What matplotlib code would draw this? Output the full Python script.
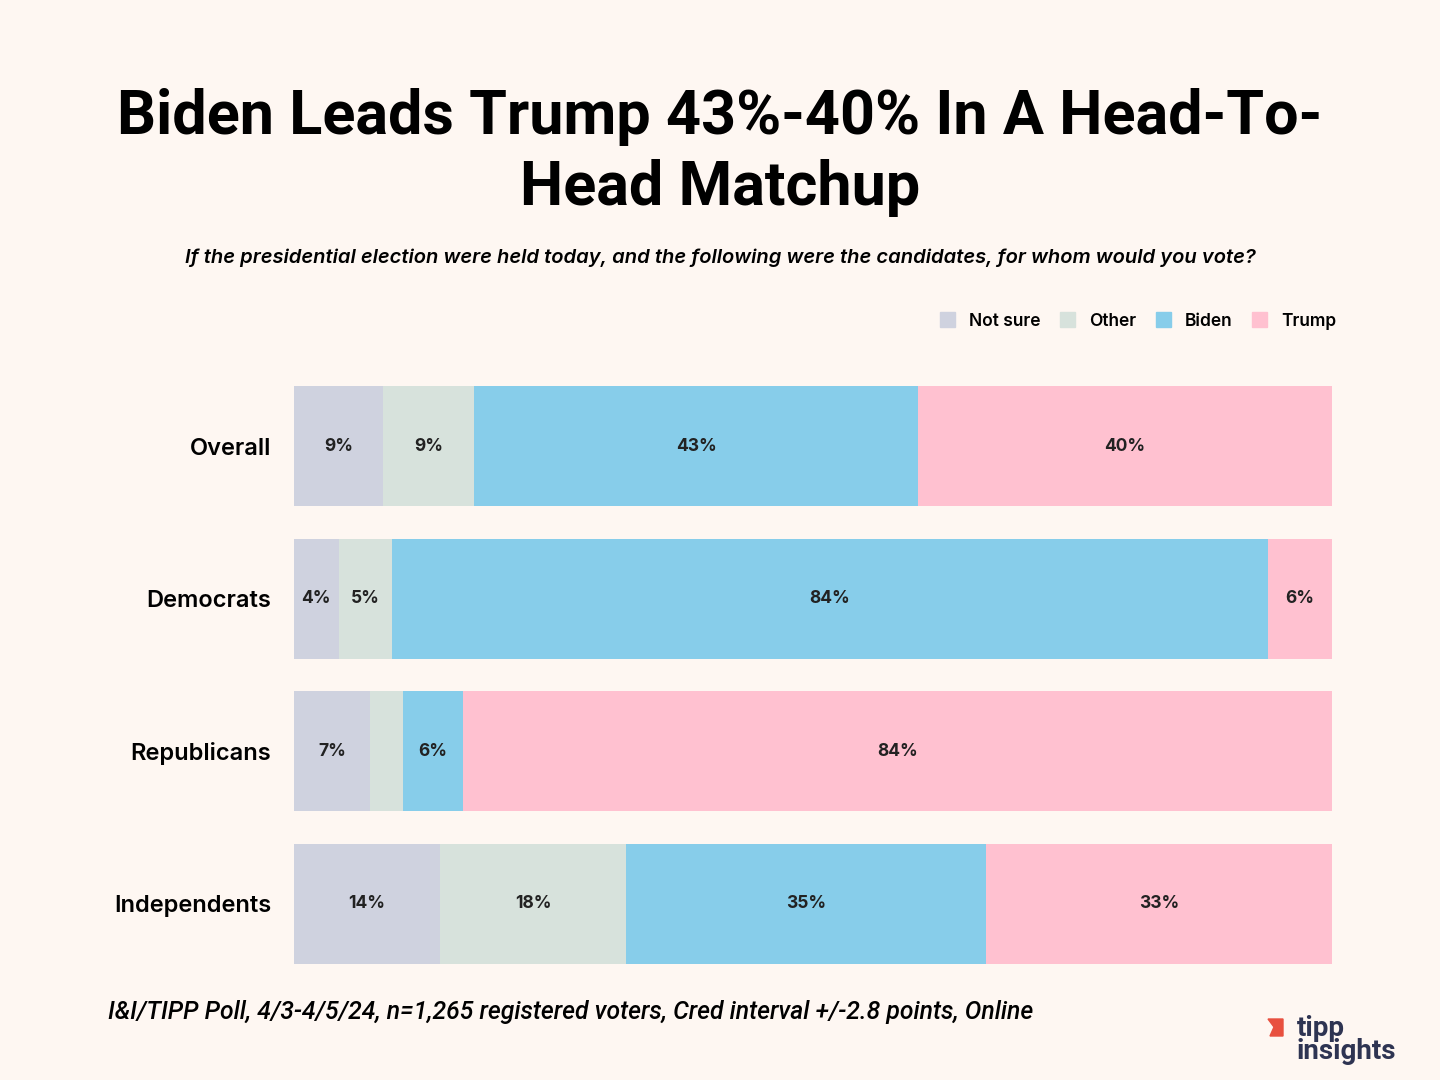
import numpy as np
import matplotlib
matplotlib.use('Agg')
import matplotlib.pyplot as plt
from matplotlib.patches import Patch, Polygon

groups = ['Overall', 'Democrats', 'Republicans', 'Independents']
series = ['Not sure', 'Other', 'Biden', 'Trump']
not_sure = [8.6, 4.3, 7.3, 14.1]
other = [8.8, 5.1, 3.2, 17.9]
biden = [42.8, 84.4, 5.8, 34.7]
trump = [39.9, 6.2, 83.7, 33.3]
shown = {
    'Not sure': ['9%', '4%', '7%', '14%'],
    'Other': ['9%', '5%', '', '18%'],
    'Biden': ['43%', '84%', '6%', '35%'],
    'Trump': ['40%', '6%', '84%', '33%'],
}
colors = ['#CFD2DF', '#D7E2DC', '#87CDEA', '#FFC1D0']
bg = '#FEF7F2'

fig = plt.figure(figsize=(14.4, 10.8), dpi=100, facecolor=bg)
ax = fig.add_axes([294/1440, 1-980/1080, 1038/1440, 610/1080])
ax.set_facecolor(bg)

data = np.array([not_sure, other, biden, trump])
data = data / data.sum(axis=0) * 100
y = np.arange(len(groups))
left = np.zeros(len(groups))
for i, name in enumerate(series):
    ax.barh(y, data[i], left=left, height=0.787, color=colors[i], label=name)
    for j in range(len(groups)):
        if shown[name][j]:
            ax.text(left[j] + data[i][j]/2, y[j], shown[name][j], ha='center', va='center',
                    fontsize=12.5, fontweight='bold', family='Inter', color='#222222')
    left += data[i]

ax.set_xlim(0, 100)
ax.set_ylim(3.5, -0.5)
ax.set_xticks([])
ax.set_yticks(y)
ax.set_yticklabels(groups, fontsize=17, fontweight='semibold', family='Inter')
ax.tick_params(axis='y', length=0, pad=16.5)
for s in ax.spines.values():
    s.set_visible(False)

fig.text(0.5, 1-117/1080, 'Biden Leads Trump 43%-40% In A Head-To-', ha='center', va='center',
         fontsize=44, fontweight='bold', family='Roboto')
fig.text(0.5, 1-188/1080, 'Head Matchup', ha='center', va='center',
         fontsize=44, fontweight='bold', family='Roboto')
fig.text(0.5, 1-258/1080, 'If the presidential election were held today, and the following were the candidates, for whom would you vote?',
         ha='center', va='center', fontsize=14.5, style='italic', fontweight='semibold', family='Inter')

handles = [Patch(color=c, label=s) for c, s in zip(colors, series)]
fig.legend(handles=handles, loc='center right', bbox_to_anchor=(1352/1440, 1-321/1080), ncol=4,
           frameon=False, handlelength=0.9, handleheight=0.9, handletextpad=0.8, columnspacing=1.1,
           prop={'family': 'Inter', 'weight': 'semibold', 'size': 12.5})

fig.text(108/1440, 1-1012/1080, 'I&I/TIPP Poll, 4/3-4/5/24, n=1,265 registered voters, Cred interval +/-2.8 points, Online',
         ha='left', va='center', fontsize=17.8, style='italic', fontweight='medium', family='Roboto')

# logo
fig.text(1297/1440, 1-1040/1080, 'tipp\ninsights', ha='left', va='center', fontsize=20, fontweight='bold',
         family='Roboto', color='#2E3452', linespacing=0.85)
fig.patches.append(Polygon([[1268/1440, 1-1019/1080], [1283/1440, 1-1019/1080], [1283/1440, 1-1036/1080],
                            [1270/1440, 1-1036/1080], [1274/1440, 1-1027/1080]],
                           closed=True, transform=fig.transFigure, color='#E8503F'))

fig.savefig('out.png', dpi=100, facecolor=bg)
